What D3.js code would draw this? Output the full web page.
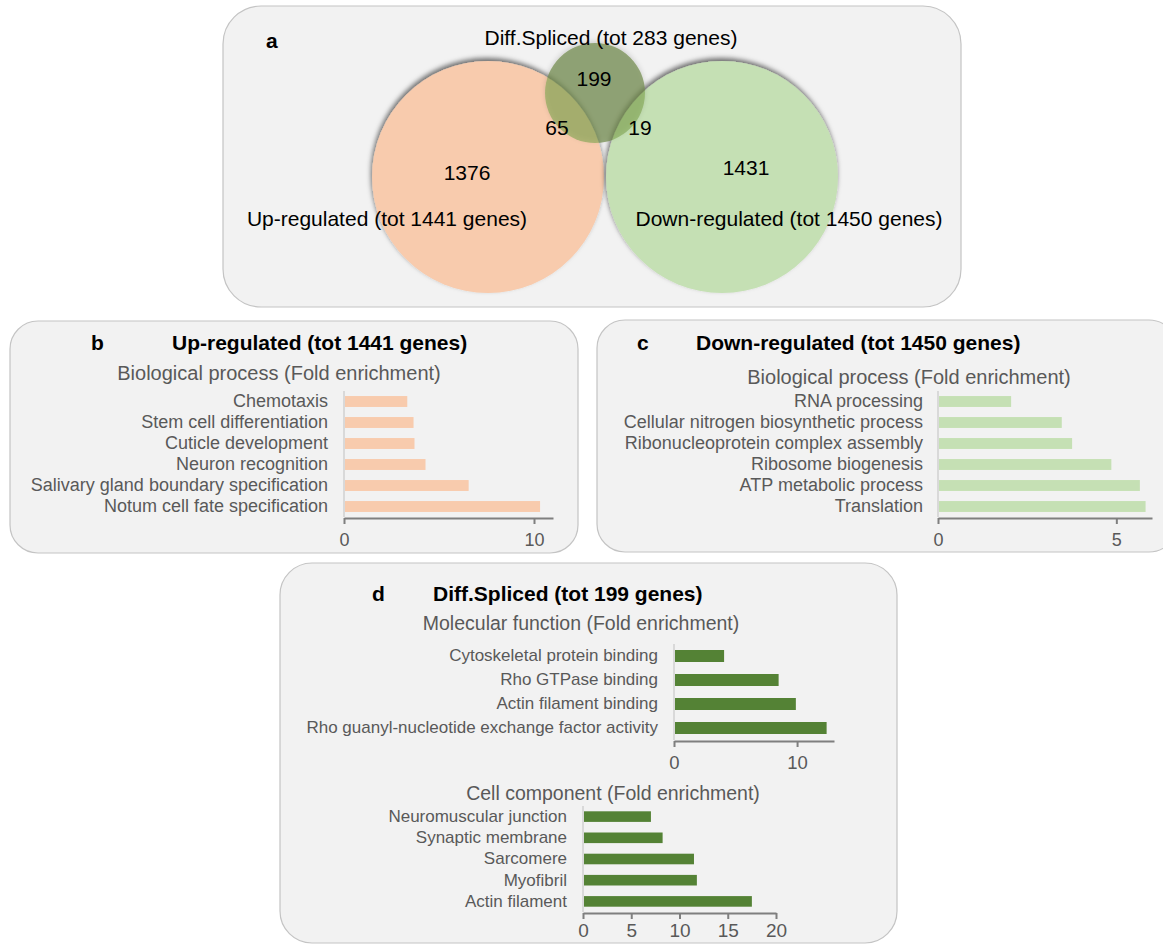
<!DOCTYPE html>
<html>
<head>
<meta charset="utf-8">
<script src="https://cdn.jsdelivr.net/npm/d3@7"></script>
<style>
  body { margin: 0; background: #ffffff; }
  svg { display: block; font-family: "Liberation Sans", Arial, sans-serif; }
</style>
</head>
<body>
<svg id="fig" width="1163" height="944"></svg>
<script>
// ---- Venn diagram data ----
const vennSetNames = ["Up-regulated (tot 1441 genes)", "Down-regulated (tot 1450 genes)", "Diff.Spliced (tot 283 genes)"];
// up only, down only, spliced only, up ∩ spliced, down ∩ spliced
const vennRegionCounts = [1376, 1431, 199, 65, 19];

// ---- GO enrichment data (fold enrichment) ----
const upCategories = ["Chemotaxis", "Stem cell differentiation", "Cuticle development", "Neuron recognition",
  "Salivary gland boundary specification", "Notum cell fate specification"];
const upValues = [3.33, 3.66, 3.71, 4.29, 6.56, 10.32];
const upTicks = [0, 10];

const downCategories = ["RNA processing", "Cellular nitrogen biosynthetic process", "Ribonucleoprotein complex assembly",
  "Ribosome biogenesis", "ATP metabolic process", "Translation"];
const downValues = [2.05, 3.47, 3.76, 4.86, 5.66, 5.82];
const downTicks = [0, 5];

const mfCategories = ["Cytoskeletal protein binding", "Rho GTPase binding", "Actin filament binding",
  "Rho guanyl-nucleotide exchange factor activity"];
const mfValues = [4.07, 8.5, 9.9, 12.4];
const mfTicks = [0, 10];

const ccCategories = ["Neuromuscular junction", "Synaptic membrane", "Sarcomere", "Myofibril", "Actin filament"];
const ccValues = [7.04, 8.25, 11.5, 11.8, 17.5];
const ccTicks = [0, 5, 10, 15, 20];

const svg = d3.select("#fig");
const FONT = '"Liberation Sans", Arial, sans-serif';
const GREY_TEXT = "#595959";

// ---- defs: shadows and mask ----
const defs = svg.append("defs");
const sh = defs.append("filter").attr("id", "vennShadow")
  .attr("x", "-20%").attr("y", "-20%").attr("width", "140%").attr("height", "140%");
sh.append("feDropShadow").attr("dx", -1).attr("dy", -3).attr("stdDeviation", 2.6)
  .attr("flood-color", "#000").attr("flood-opacity", 0.55);
const sh2 = defs.append("filter").attr("id", "smallShadow")
  .attr("x", "-30%").attr("y", "-30%").attr("width", "160%").attr("height", "160%");
sh2.append("feDropShadow").attr("dx", 0).attr("dy", -2).attr("stdDeviation", 2.5)
  .attr("flood-color", "#000").attr("flood-opacity", 0.22);

// ---- panel frames ----
function frame(x, y, w, h, r) {
  svg.append("rect").attr("x", x).attr("y", y).attr("width", w).attr("height", h)
    .attr("rx", r).attr("ry", r).attr("fill", "#f2f2f2").attr("stroke", "#c4c4c4").attr("stroke-width", 1.2);
}
frame(223, 6, 738, 301, 38);
frame(10, 321, 568, 232, 28);
frame(597, 320, 580, 232, 28);
frame(280, 563, 617, 380, 32);

function txt(x, y, s, o = {}) {
  return svg.append("text").attr("x", x).attr("y", y).text(s)
    .attr("font-family", FONT)
    .attr("font-size", o.size || 20)
    .attr("font-weight", o.bold ? "bold" : "normal")
    .attr("fill", o.fill || "#000")
    .attr("text-anchor", o.anchor || "middle")
    .attr("dominant-baseline", "central");
}

// ---- panel a: Venn ----
const up = { cx: 488, cy: 177, r: 116 };
const down = { cx: 722, cy: 177, r: 116 };
const spl = { cx: 595, cy: 93, r: 50 };

const mask = defs.append("mask").attr("id", "outsideBig");
mask.append("rect").attr("x", 0).attr("y", 0).attr("width", 1163).attr("height", 944).attr("fill", "#fff");
[up, down].forEach(c => mask.append("circle").attr("cx", c.cx).attr("cy", c.cy).attr("r", c.r).attr("fill", "#000"));

const venn = svg.append("g");
venn.append("circle").attr("cx", up.cx).attr("cy", up.cy).attr("r", up.r)
  .attr("fill", "#f8cbad").attr("filter", "url(#vennShadow)");
venn.append("circle").attr("cx", down.cx).attr("cy", down.cy).attr("r", down.r)
  .attr("fill", "#c5e0b4").attr("filter", "url(#vennShadow)");
venn.append("circle").attr("cx", spl.cx).attr("cy", spl.cy).attr("r", spl.r)
  .attr("fill", "#7fa552").attr("fill-opacity", 0.62).attr("filter", "url(#smallShadow)");
venn.append("circle").attr("cx", spl.cx).attr("cy", spl.cy).attr("r", spl.r)
  .attr("fill", "#4a4a3a").attr("fill-opacity", 0.22).attr("mask", "url(#outsideBig)");

txt(266, 40, "a", { size: 21, bold: true, anchor: "start" });
txt(611, 37, vennSetNames[2], { size: 21 });
txt(387, 218, vennSetNames[0], { size: 21 });
txt(789, 218, vennSetNames[1], { size: 21 });
const vennLabelPos = [[467, 172], [746, 167], [594, 78], [557, 127], [640, 127]];
vennRegionCounts.forEach((v, i) => txt(vennLabelPos[i][0], vennLabelPos[i][1], v, { size: 21 }));

// ---- horizontal bar chart helper ----
function barChart(cats, vals, o) {
  const g = svg.append("g");
  const x = d3.scaleLinear().domain(o.domain).range(o.xRange);
  const y = d3.scaleBand().domain(cats).range(o.yRange).paddingInner(o.pad).paddingOuter(o.pad / 2);

  g.selectAll("rect.bar").data(cats).join("rect").attr("class", "bar")
    .attr("x", x(0)).attr("y", d => y(d))
    .attr("width", (d, i) => x(vals[i]) - x(0))
    .attr("height", y.bandwidth())
    .attr("fill", o.color);

  // category axis
  g.append("line").attr("x1", x(0)).attr("x2", x(0))
    .attr("y1", o.yRange[0]).attr("y2", o.yRange[1])
    .attr("stroke", "#d9d9d9").attr("stroke-width", 2);
  const ya = g.append("g").attr("transform", `translate(${x(0)},0)`)
    .call(d3.axisLeft(y).tickSize(0).tickPadding(o.labelGap));
  ya.select(".domain").remove();
  ya.selectAll("text").attr("font-family", FONT).attr("font-size", o.labelSize).attr("fill", GREY_TEXT);

  // value axis
  const xa = g.append("g").attr("transform", `translate(0,${o.yRange[1] + 1})`)
    .call(d3.axisBottom(x).tickValues(o.ticks).tickSize(6).tickSizeOuter(0).tickPadding(o.tickPad).tickFormat(d3.format("d")));
  xa.select(".domain").attr("stroke", "#7f7f7f").attr("stroke-width", 2);
  xa.selectAll(".tick line").attr("stroke", "#7f7f7f").attr("stroke-width", 2);
  xa.selectAll("text").attr("font-family", FONT).attr("font-size", o.tickSize).attr("fill", GREY_TEXT);
}

// ---- panel b ----
txt(91, 342, "b", { size: 21, bold: true, anchor: "start" });
txt(172, 342, "Up-regulated (tot 1441 genes)", { size: 21, bold: true, anchor: "start" });
txt(279, 373, "Biological process (Fold enrichment)", { size: 20, fill: GREY_TEXT });
barChart(upCategories, upValues, {
  domain: [0, 11], xRange: [344, 553], yRange: [391, 517], pad: 0.48,
  color: "#f8cbad", ticks: upTicks, labelGap: 16, labelSize: 18, tickSize: 18, tickPad: 9
});

// ---- panel c ----
txt(637, 342, "c", { size: 21, bold: true, anchor: "start" });
txt(696, 342, "Down-regulated (tot 1450 genes)", { size: 21, bold: true, anchor: "start" });
txt(909, 377, "Biological process (Fold enrichment)", { size: 20, fill: GREY_TEXT });
barChart(downCategories, downValues, {
  domain: [0, 6], xRange: [938, 1152], yRange: [391, 517], pad: 0.48,
  color: "#c5e0b4", ticks: downTicks, labelGap: 15, labelSize: 18, tickSize: 18, tickPad: 9
});

// ---- panel d ----
txt(372, 593, "d", { size: 21, bold: true, anchor: "start" });
txt(433, 593, "Diff.Spliced (tot 199 genes)", { size: 21, bold: true, anchor: "start" });
txt(581, 623, "Molecular function (Fold enrichment)", { size: 19.5, fill: GREY_TEXT });
barChart(mfCategories, mfValues, {
  domain: [0, 13], xRange: [674, 834], yRange: [644, 740], pad: 0.5,
  color: "#548235", ticks: mfTicks, labelGap: 16, labelSize: 17, tickSize: 18.5, tickPad: 9
});
txt(613, 793, "Cell component (Fold enrichment)", { size: 19.5, fill: GREY_TEXT });
barChart(ccCategories, ccValues, {
  domain: [0, 20], xRange: [583, 776], yRange: [806, 912], pad: 0.5,
  color: "#548235", ticks: ccTicks, labelGap: 16, labelSize: 17, tickSize: 19, tickPad: 5
});
</script>
</body>
</html>
